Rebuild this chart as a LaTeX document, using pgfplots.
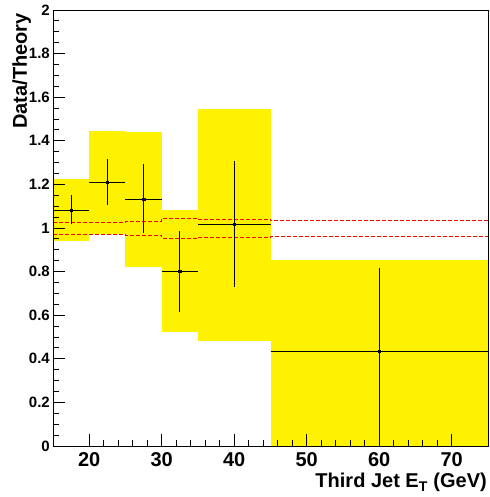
\documentclass[border=0pt]{standalone}
\usepackage{fontspec}
\setmainfont{Liberation Sans}
\usepackage{pgfplots}
\pgfplotsset{compat=1.18}
\begin{document}
\begin{tikzpicture}
\begin{axis}[name=ax, scale only axis, width=435pt, height=436pt,
  xmin=15, xmax=75, ymin=0, ymax=2,
  axis on top,
  tick pos=left, tick align=inside,
  xtick={20,30,40,50,60,70}, minor x tick num=4,
  ytick={0,0.2,0.4,0.6,0.8,1,1.2,1.4,1.6,1.8,2}, minor y tick num=3,
  major tick length=12pt, minor tick length=6pt,
  axis line style={line width=0.8pt},
  every tick/.style={black, line width=0.8pt},
  /pgf/number format/assume math mode=true,
  xticklabel style={font=\fontsize{20}{20}\selectfont\bfseries, anchor=base, yshift=-21pt, text depth=0pt, inner sep=0pt},
  yticklabel style={font=\fontsize{15}{15}\selectfont\bfseries, anchor=east, inner sep=0pt, xshift=-3pt},
  xlabel={Third Jet E\textsubscript{T} (GeV)},
  xlabel style={at={(axis description cs:0.9977,-0.0963)}, anchor=base east, font=\fontsize{20}{20}\selectfont\bfseries, inner sep=0pt},
  ylabel={Data/Theory},
  ylabel style={at={(axis description cs:-0.0598,0.993)}, anchor=base east, font=\fontsize{20}{20}\selectfont\bfseries, inner sep=0pt},
]
% systematic bands
\addplot[fill=yellow, draw=none] coordinates {(15,0.94) (15,1.225) (20,1.225) (20,0.94)} -- cycle;
\addplot[fill=yellow, draw=none] coordinates {(20,0.973) (20,1.445) (25,1.445) (25,0.973)} -- cycle;
\addplot[fill=yellow, draw=none] coordinates {(25,0.82) (25,1.44) (30,1.44) (30,0.82)} -- cycle;
\addplot[fill=yellow, draw=none] coordinates {(30,0.524) (30,1.083) (35,1.083) (35,0.524)} -- cycle;
\addplot[fill=yellow, draw=none] coordinates {(35,0.483) (35,1.546) (45,1.546) (45,0.483)} -- cycle;
\addplot[fill=yellow, draw=none] coordinates {(45,0) (45,0.853) (75,0.853) (75,0)} -- cycle;
% theory uncertainty
\addplot[const plot, red, line width=0.8pt, dash pattern=on 4pt off 2pt] coordinates {(15,1.026) (20,1.026) (25,1.029) (30,1.045) (35,1.041) (45,1.034) (75,1.034)};
\addplot[const plot, red, line width=0.8pt, dash pattern=on 4pt off 2pt] coordinates {(15,0.972) (20,0.972) (25,0.966) (30,0.953) (35,0.956) (45,0.962) (75,0.962)};
% data
\addplot[only marks, black, mark=square*, mark size=1.2pt,
  error bars/.cd, x dir=both, x explicit, y dir=both, y explicit,
  error mark=none, error bar style={line width=0.8pt, black}]
  coordinates {
  (17.5,1.083) += (2.5,0.068) -= (2.5,0.065)
  (22.5,1.211) += (2.5,0.104) -= (2.5,0.106)
  (27.5,1.132) += (2.5,0.160) -= (2.5,0.156)
  (32.5,0.803) += (2.5,0.183) -= (2.5,0.187)
  (40,1.018) += (5,0.289) -= (5,0.290)
  (60,0.436) += (15,0.379) -= (15,0.436)
  };
\end{axis}
\pgfresetboundingbox
\path ([shift={(-53pt,-51pt)}]ax.south west) rectangle ([shift={(2pt,10pt)}]ax.north east);
\end{tikzpicture}
\end{document}
